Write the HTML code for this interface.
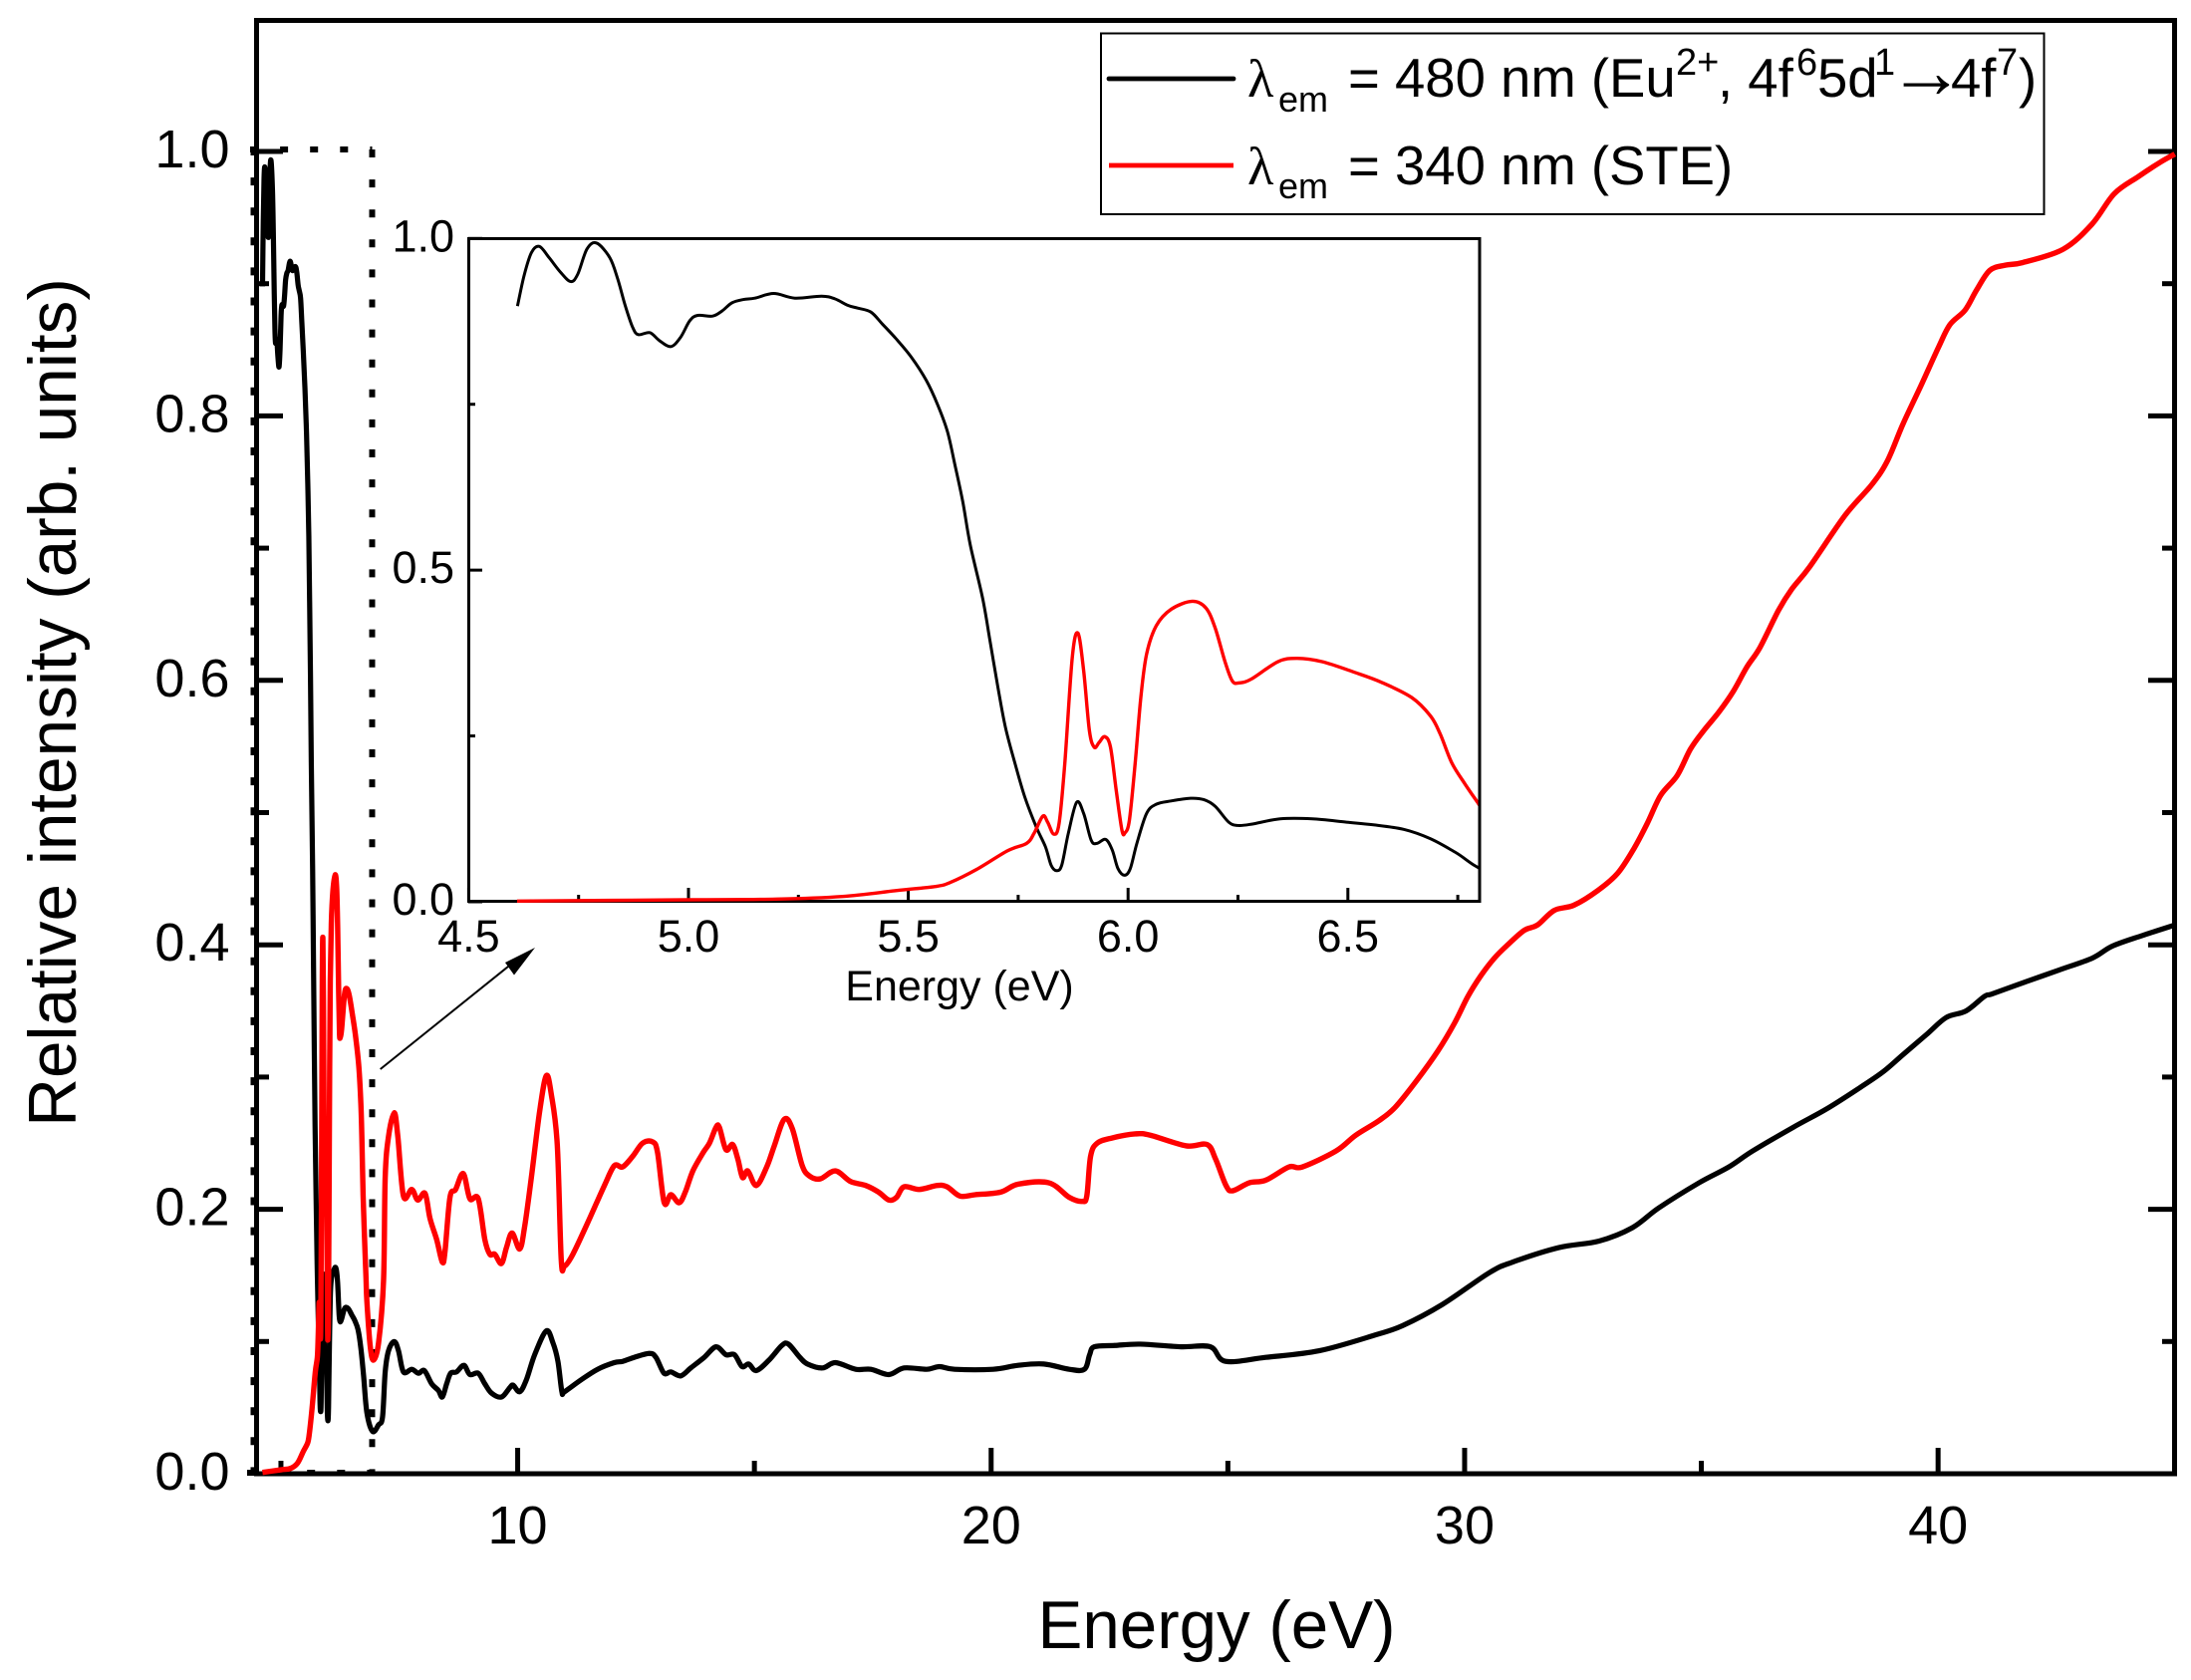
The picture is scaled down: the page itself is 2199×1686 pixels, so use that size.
<!DOCTYPE html>
<html lang="en">
<head>
<meta charset="utf-8">
<title>Relative intensity vs energy</title>
<style>
html,body{margin:0;padding:0;background:#fff;}
svg{display:block;}
text{font-family:"Liberation Sans",Arial,sans-serif;fill:#000;}
</style>
</head>
<body>
<svg id="chart" xmlns="http://www.w3.org/2000/svg" width="2199" height="1686" viewBox="0 0 2199 1686">
  <defs>
    <clipPath id="inset-clip"><rect x="470" y="239" width="1013.5" height="668"/></clipPath>
  </defs>
  <rect x="0" y="0" width="2199" height="1686" fill="#fff"/>
  <g id="main-ticks"></g>
  <rect x="257.5" y="20.5" width="1925" height="1458.5" fill="none" stroke="#000" stroke-width="5"/>
  <g fill="none" stroke="#000" stroke-width="6" stroke-dasharray="8 22.1">
    <line x1="251" y1="150" x2="373.5" y2="150"/>
    <line x1="373.5" y1="150" x2="373.5" y2="1478"/>
    <line x1="254.5" y1="148" x2="254.5" y2="1478"/>
    <line x1="248" y1="1478" x2="373.5" y2="1478"/>
  </g>
  <g id="main-series"></g>
  <g>
    <line x1="381.7" y1="1073" x2="520" y2="962" stroke="#000" stroke-width="2"/>
    <polygon points="537,951 507,966 516,978.5" fill="#000"/>
  </g>
  <g id="inset-ticks"></g>
  <rect x="470.5" y="239.5" width="1014.5" height="665" fill="none" stroke="#000" stroke-width="3"/>
  <g id="inset-series" clip-path="url(#inset-clip)"></g>
  <text x="1221" y="1654" font-size="67.3" text-anchor="middle">Energy (eV)</text>
  <text transform="translate(76 705) rotate(-90)" font-size="67.5" text-anchor="middle">Relative intensity (arb. units)</text>
  <text x="963" y="1004" font-size="43" text-anchor="middle">Energy (eV)</text>
  <g>
    <rect x="1105" y="33.5" width="946.5" height="181.5" fill="#fff" stroke="#000" stroke-width="2"/>
    <line x1="1113" y1="79" x2="1238" y2="79" stroke="#000" stroke-width="4.8" stroke-linecap="round"/>
    <line x1="1113" y1="166" x2="1238" y2="166" stroke="#f00" stroke-width="4.8"/>
    <g font-size="54.5">
      <text x="1252" y="97" style="font-family:'Liberation Serif',serif">λ</text>
      <text x="1283" y="112" font-size="36">em</text>
      <text x="1353" y="97">= 480 nm (Eu</text>
      <text x="1682" y="75" font-size="38">2+</text>
      <text x="1724" y="97">, 4f</text>
      <text x="1803" y="75" font-size="38">6</text>
      <text x="1824" y="97">5d</text>
      <text x="1881" y="75" font-size="38">1</text>
      <text x="1895" y="98" font-size="77">→</text>
      <text x="1958" y="97">4f</text>
      <text x="2004" y="75" font-size="38">7</text>
      <text x="2026" y="97">)</text>
    </g>
    <g font-size="54.5">
      <text x="1252" y="185" style="font-family:'Liberation Serif',serif">λ</text>
      <text x="1283" y="199" font-size="36">em</text>
      <text x="1353" y="185">= 340 nm (STE)</text>
    </g>
  </g>
</svg>
<script>
// ---- data (energy in eV, relative intensity) ----
const blackEnergy = [4.611,4.626,4.643,4.661,4.683,4.709,4.732,4.748,4.769,4.791,4.821,4.839,4.856,4.873,4.886,4.912,4.934,4.960,4.982,5.003,5.021,5.055,5.077,5.099,5.125,5.151,5.194,5.242,5.303,5.333,5.363,5.385,5.415,5.441,5.472,5.507,5.541,5.567,5.589,5.606,5.624,5.641,5.669,5.686,5.704,5.721,5.743,5.765,5.791,5.812,5.825,5.837,5.849,5.864,5.883,5.899,5.916,5.929,5.949,5.964,5.977,5.992,6.005,6.020,6.042,6.064,6.098,6.142,6.172,6.198,6.229,6.250,6.281,6.346,6.419,6.497,6.558,6.628,6.688,6.746,6.816,6.936,7.062,7.146,7.202,7.272,7.392,7.483,7.588,7.763,7.904,8.03,8.184,8.325,8.409,8.5,8.584,8.71,8.865,8.991,9.167,9.307,9.447,9.657,9.833,9.903,10.043,10.184,10.359,10.604,10.745,10.85,10.934,10.99,11.34,11.69,12.04,12.22,12.46,12.78,12.92,13.09,13.235,13.445,13.656,13.94,14.19,14.4,14.58,14.74,14.88,15.04,15.31,15.58,15.72,15.96,16.12,16.44,16.71,17.14,17.46,17.84,18.16,18.64,18.91,19.23,20.04,20.57,21.11,21.65,21.97,22.08,22.18,22.61,23.15,24.01,24.63,24.95,25.8,26.93,28.12,28.69,29.53,30.52,31.01,31.99,32.84,33.54,34.1,34.95,35.58,36.08,36.94,37.65,38.35,38.84,39.26,39.75,40.17,40.59,40.98,41.15,41.85,42.56,43.26,43.68,44.31,45];
const blackValues = [.898,.944,.979,.988,.971,.949,.935,.946,.984,.993,.971,.939,.899,.866,.855,.858,.846,.837,.851,.876,.884,.883,.891,.903,.908,.910,.917,.910,.913,.909,.899,.895,.889,.871,.849,.821,.786,.749,.709,.659,.603,.538,.458,.393,.323,.263,.208,.158,.113,.083,.055,.047,.055,.103,.150,.133,.093,.088,.094,.078,.050,.040,.050,.088,.133,.147,.152,.156,.154,.144,.120,.115,.117,.125,.125,.120,.116,.109,.095,.074,.046,.032,.037,.043,.077,.093,.100,.093,.077,.079,.076,.078,.068,.063,.058,.068,.076,.077,.082,.075,.076,.068,.061,.058,.065,.067,.062,.071,.090,.108,.099,.085,.062,.062,.071,.079,.084,.085,.088,.091,.088,.076,.077,.074,.080,.088,.096,.090,.090,.081,.083,.078,.086,.097,.098,.088,.083,.080,.084,.079,.079,.075,.080,.079,.081,.079,.079,.082,.083,.079,.079,.090,.096,.097,.098,.096,.096,.085,.088,.093,.105,.112,.128,.152,.160,.171,.176,.186,.201,.220,.232,.244,.262,.276,.292,.304,.317,.332,.345,.350,.361,.363,.372,.381,.390,.399,.407,.415];
const redEnergy = [4.61,5.0,5.2,5.35,5.474,5.561,5.595,5.656,5.726,5.769,5.786,5.806,5.817,5.831,5.843,5.856,5.873,5.886,5.899,5.912,5.923,5.934,5.947,5.960,5.973,5.986,5.993,6.003,6.016,6.029,6.042,6.064,6.098,6.146,6.177,6.198,6.220,6.237,6.253,6.281,6.341,6.385,6.441,6.515,6.576,6.645,6.688,6.710,6.736,6.766,6.797,6.816,6.887,6.957,7.062,7.167,7.202,7.272,7.392,7.469,7.588,7.763,7.89,8.044,8.149,8.29,8.409,8.465,8.57,8.69,8.851,8.991,9.167,9.307,9.412,9.517,9.657,9.763,9.882,10.043,10.148,10.289,10.464,10.604,10.71,10.836,10.92,10.99,11.166,11.481,11.832,12.042,12.217,12.428,12.638,12.849,12.954,13.095,13.235,13.41,13.54,13.70,13.92,14.05,14.19,14.26,14.40,14.54,14.65,14.75,14.86,15.04,15.26,15.42,15.63,15.80,16.01,16.17,16.39,16.71,17.03,17.35,17.62,17.84,18.0,18.16,18.48,18.86,19.07,19.34,19.66,20.2,20.57,21.22,21.65,21.92,22.02,22.1,22.24,22.56,23.04,23.36,24.12,24.56,24.74,24.96,25.10,25.45,25.8,26.29,26.57,27.28,27.7,28.19,28.53,28.98,29.44,29.79,30.07,30.35,30.63,30.91,31.26,31.54,31.89,32.31,32.81,33.23,33.58,33.86,34.14,34.49,34.77,35.05,35.37,35.68,35.96,36.24,36.63,36.91,37.29,38.04,38.6,38.93,39.26,39.64,40.01,40.25,40.57,40.81,41.09,41.42,41.79,42.64,43.25,43.72,44.23,44.7,45];
const redValues = [.001,.003,.004,.008,.017,.023,.029,.049,.077,.088,.103,.129,.120,.102,.118,.208,.368,.405,.348,.258,.233,.240,.249,.233,.168,.108,.104,.123,.208,.308,.373,.416,.441,.453,.443,.413,.363,.333,.330,.336,.362,.367,.362,.346,.331,.308,.280,.253,.210,.178,.148,.130,.096,.086,.099,.146,.224,.255,.273,.255,.210,.215,.207,.212,.193,.177,.160,.168,.209,.215,.227,.208,.208,.177,.166,.166,.159,.171,.182,.170,.187,.224,.274,.301,.287,.249,.162,.157,.166,.190,.218,.233,.232,.240,.250,.251,.243,.205,.211,.205,.213,.229,.243,.250,.262,.262,.245,.249,.238,.224,.229,.218,.232,.248,.268,.261,.233,.225,.223,.229,.221,.218,.213,.207,.209,.217,.215,.218,.217,.210,.211,.213,.219,.220,.209,.206,.210,.240,.250,.254,.257,.256,.248,.249,.238,.218,.214,.220,.222,.232,.232,.244,.256,.267,.277,.297,.320,.341,.361,.377,.390,.400,.411,.415,.426,.430,.441,.454,.473,.492,.513,.528,.548,.562,.576,.592,.610,.625,.653,.669,.686,.725,.748,.766,.794,.823,.852,.869,.880,.895,.910,.914,.916,.926,.945,.968,.981,.992,.998];

const mainYMajorTicks = [0,0.2,0.4,0.6,0.8,1.0];
const mainYMajorLabels = ['0.0','0.2','0.4','0.6','0.8','1.0'];
const mainYMinorTicks = [0.1,0.3,0.5,0.7,0.9];
const mainXMajorTicks = [10,20,30,40];
const mainXMajorLabels = ['10','20','30','40'];
const mainXMinorTicks = [5,15,25,35];

const insetYMajorTicks = [0,0.5,1.0];
const insetYMajorLabels = ['0.0','0.5','1.0'];
const insetYMinorTicks = [0.25,0.75];
const insetXMajorTicks = [4.5,5.0,5.5,6.0,6.5];
const insetXMajorLabels = ['4.5','5.0','5.5','6.0','6.5'];
const insetXMinorTicks = [4.75,5.25,5.75,6.25,6.75];

// ---- axis functions ----
const mainX = e => 258.2 + (e - 4.5) * 47.52;
const mainY = v => 1479 - v * 1327;
const insetX = e => 470.4 + (e - 4.5) * 441.2;
const insetY = v => 905 - v * 665.7;

const NS = 'http://www.w3.org/2000/svg';
function make(parentId, tag, attrs, text) {
  const el = document.createElementNS(NS, tag);
  Object.keys(attrs).forEach(k => el.setAttribute(k, attrs[k]));
  if (text !== undefined) el.textContent = text;
  document.getElementById(parentId).appendChild(el);
  return el;
}
function curve(xs, ys, fx, fy) {
  const p = xs.map((x, i) => [fx(x), fy(ys[i])]);
  let d = 'M' + p[0][0].toFixed(2) + ' ' + p[0][1].toFixed(2);
  for (let i = 0; i < p.length - 1; i++) {
    const a = p[Math.max(i - 1, 0)], b = p[i], c = p[i + 1], n = p[Math.min(i + 2, p.length - 1)];
    const c1x = b[0] + (c[0] - a[0]) / 6, c1y = b[1] + (c[1] - a[1]) / 6;
    const c2x = c[0] - (n[0] - b[0]) / 6, c2y = c[1] - (n[1] - b[1]) / 6;
    d += 'C' + c1x.toFixed(2) + ' ' + c1y.toFixed(2) + ' ' + c2x.toFixed(2) + ' ' + c2y.toFixed(2) + ' ' + c[0].toFixed(2) + ' ' + c[1].toFixed(2);
  }
  return d;
}

// ---- main axis ticks and labels ----
const mainTickStyle = {stroke: '#000', 'stroke-width': 5};
mainYMajorTicks.forEach((v, i) => {
  const left = make('main-ticks', 'line', Object.assign({x1: 257, x2: 284, y1: mainY(v), y2: mainY(v)}, mainTickStyle));
  
  
  const right = make('main-ticks', 'line', Object.assign({x1: 2156, x2: 2183, y1: mainY(v), y2: mainY(v)}, mainTickStyle));
  
  
  const label = make('main-ticks', 'text', {x: 230.5, y: mainY(v) + 16, 'font-size': 54, 'text-anchor': 'end'}, mainYMajorLabels[i]);
  
  
});
mainYMinorTicks.forEach(v => {
  const left = make('main-ticks', 'line', Object.assign({x1: 257, x2: 270, y1: mainY(v), y2: mainY(v)}, mainTickStyle));
  
  
  const right = make('main-ticks', 'line', Object.assign({x1: 2170, x2: 2183, y1: mainY(v), y2: mainY(v)}, mainTickStyle));
  
  
});
mainXMajorTicks.forEach((e, i) => {
  const tick = make('main-ticks', 'line', Object.assign({x1: mainX(e), x2: mainX(e), y1: 1479, y2: 1453}, mainTickStyle));
  
  
  const label = make('main-ticks', 'text', {x: mainX(e), y: 1549, 'font-size': 54, 'text-anchor': 'middle'}, mainXMajorLabels[i]);
  
  
});
mainXMinorTicks.forEach(e => {
  const tick = make('main-ticks', 'line', Object.assign({x1: mainX(e), x2: mainX(e), y1: 1479, y2: 1466}, mainTickStyle));
  
  
});

// ---- main series ----
const mainBlack = make('main-series', 'path', {d: curve(blackEnergy, blackValues, mainX, mainY), fill: 'none', stroke: '#000', 'stroke-width': 5.2, 'stroke-linejoin': 'round'});


const mainRed = make('main-series', 'path', {d: curve(redEnergy, redValues, mainX, mainY), fill: 'none', stroke: '#f00', 'stroke-width': 5.4, 'stroke-linejoin': 'round'});



// ---- inset axis ticks and labels ----
const insetTickStyle = {stroke: '#000', 'stroke-width': 3};
insetYMajorTicks.forEach((v, i) => {
  const tick = make('inset-ticks', 'line', Object.assign({x1: 470, x2: 484, y1: insetY(v), y2: insetY(v)}, insetTickStyle));
  
  
  const label = make('inset-ticks', 'text', {x: 456, y: insetY(v) + 13, 'font-size': 45, 'text-anchor': 'end'}, insetYMajorLabels[i]);
  
  
});
insetYMinorTicks.forEach(v => {
  const tick = make('inset-ticks', 'line', Object.assign({x1: 470, x2: 477, y1: insetY(v), y2: insetY(v)}, insetTickStyle));
  
  
});
insetXMajorTicks.forEach((e, i) => {
  const tick = make('inset-ticks', 'line', Object.assign({x1: insetX(e), x2: insetX(e), y1: 905, y2: 891}, insetTickStyle));
  
  
  const label = make('inset-ticks', 'text', {x: insetX(e), y: 955, 'font-size': 45, 'text-anchor': 'middle'}, insetXMajorLabels[i]);
  
  
});
insetXMinorTicks.forEach(e => {
  const tick = make('inset-ticks', 'line', Object.assign({x1: insetX(e), x2: insetX(e), y1: 905, y2: 898}, insetTickStyle));
  
  
});

// ---- inset series ----
const insetBlack = make('inset-series', 'path', {d: curve(blackEnergy, blackValues, insetX, insetY), fill: 'none', stroke: '#000', 'stroke-width': 3, 'stroke-linejoin': 'round'});


const insetRed = make('inset-series', 'path', {d: curve(redEnergy, redValues, insetX, insetY), fill: 'none', stroke: '#f00', 'stroke-width': 3.4, 'stroke-linejoin': 'round'});


</script>
</body>
</html>
